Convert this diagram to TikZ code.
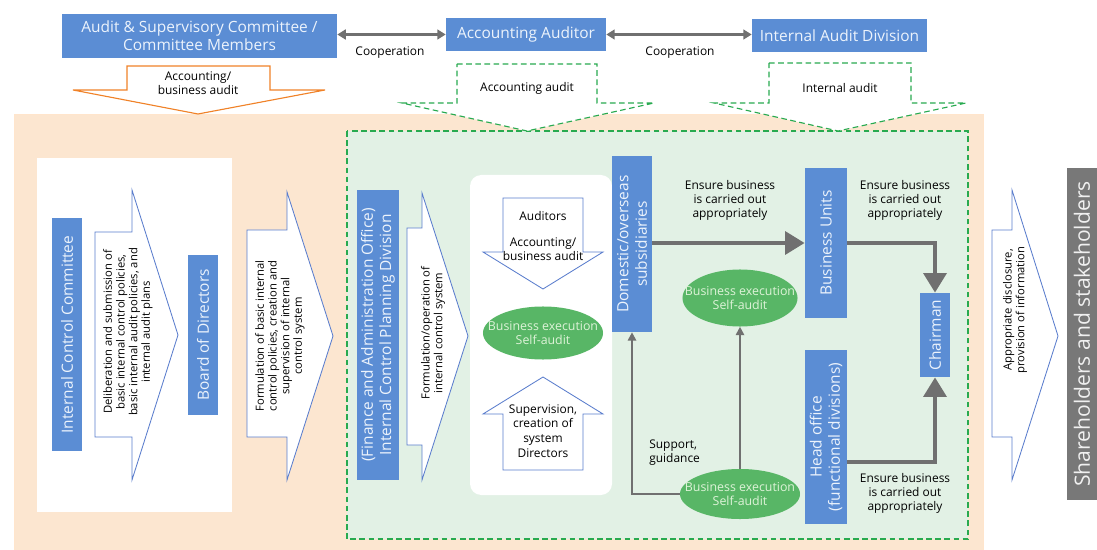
\documentclass[tikz,border=0pt]{standalone}
\usepackage{fontspec}
\setmainfont{Open Sans}
\usetikzlibrary{arrows.meta,shapes.geometric}
\definecolor{boxblue}{RGB}{91,141,212}
\definecolor{boxtext}{RGB}{236,243,252}
\definecolor{peach}{RGB}{252,230,208}
\definecolor{mint}{RGB}{226,241,229}
\definecolor{dashgreen}{RGB}{40,170,80}
\definecolor{leaf}{RGB}{88,182,102}
\definecolor{leaftext}{RGB}{222,243,216}
\definecolor{flowgray}{RGB}{112,112,112}
\definecolor{sharegray}{RGB}{120,120,120}
\definecolor{auditorange}{RGB}{240,130,40}
\definecolor{arrowblue}{RGB}{90,125,205}

\begin{document}
\begin{tikzpicture}[x=0.025cm, y=-0.025cm,
    every node/.style={font=\fontsize{8.5}{10}\selectfont, align=center, inner sep=0pt},
    bluebox/.style={fill=boxblue, text=boxtext, font=\fontsize{11}{13}\selectfont},
    selfaudit/.style={ellipse, fill=leaf},
    selftext/.style={text=leaftext, font=\fontsize{8.8}{10.5}\selectfont},
    arrowtext/.style={rotate=90, font=\fontsize{8}{9}\selectfont},
    bigarrow/.style={draw=arrowblue, fill=white, line width=0.6pt},
    greenarrow/.style={draw=dashgreen, fill=white, line width=0.8pt, dash pattern=on 4pt off 2.5pt},
    flow/.style={draw=flowgray, line width=3.5pt, -{Triangle[length=14pt,width=16pt]}},
    thinflow/.style={draw=flowgray, line width=1.3pt, -{Triangle[length=6pt,width=6pt]}},
    coop/.style={draw=flowgray, line width=1.8pt, {Triangle[length=6pt,width=7pt]}-{Triangle[length=6pt,width=7pt]}}]
  \useasboundingbox (0,0) rectangle (1097,550);

  % backgrounds
  \draw[orange!20, fill=peach] (14,114) rectangle (983,550);
  \draw[greenarrow, fill=mint] (347,131) rectangle (968,539);
  \fill[white] (37,158) rectangle (232,512);
  \fill[white, rounded corners=8pt] (470,175) rectangle (612,495);

  % auditors on top
  \node[bluebox, minimum width=6.875cm, minimum height=1.1cm] (audsup) at (199.5,36)
    {Audit \& Supervisory Committee /\\Committee Members};
  \node[bluebox, minimum width=4cm, minimum height=0.825cm] (accaud) at (526,34.5) {Accounting Auditor};
  \node[bluebox, minimum width=4.375cm, minimum height=0.825cm] (intaud) at (839.5,35.5) {Internal Audit Division};
  \draw[coop] (audsup.east |- accaud) -- (accaud.west);
  \draw[coop] (accaud.east) -- (intaud.west |- accaud);
  \node (coop1) at (390,53) {Cooperation};
  \node (coop2) at (680,53) {Cooperation};

  \draw[draw=auditorange, fill=white, line width=0.8pt]
    (127,66) -- (270,66) -- (270,90) -- (325,90) -- (198,114) -- (73,90) -- (127,90) -- cycle;
  \node (orgaudit) at (198,83) {Accounting/\\business audit};
  \draw[greenarrow]
    (457,64) -- (597,64) -- (597,103) -- (654,103) -- (527,131) -- (402,103) -- (457,103) -- cycle;
  \node (accaudit) at (527,88) {Accounting audit};
  \draw[greenarrow]
    (769,63) -- (911,63) -- (911,103) -- (966,103) -- (838,131) -- (714,103) -- (769,103) -- cycle;
  \node (intaudit) at (840,88) {Internal audit};

  % left: committee and board
  \node[bluebox, rotate=90, minimum width=5.825cm, minimum height=0.75cm] (icc) at (67,334.5)
    {Internal Control Committee};
  \draw[bigarrow] (95,232) -- (132,232) -- (132,190) -- (178,335) -- (132,480) -- (132,437) -- (95,437) -- cycle;
  \node[arrowtext] (delib) at (128,332) {Deliberation and submission of\\basic internal control policies,\\basic internal audit policies, and\\internal audit plans};
  \node[bluebox, rotate=90, minimum width=4cm, minimum height=0.75cm] (board) at (203,335) {Board of Directors};
  \draw[bigarrow] (247,230) -- (287,230) -- (287,192) -- (333,336) -- (287,480) -- (287,437) -- (247,437) -- cycle;
  \node[arrowtext] (formul) at (280,336) {Formulation of basic internal\\control policies, creation and\\supervision of internal\\control system};

  % planning division
  \node[bluebox, rotate=90, minimum width=7.25cm, minimum height=1.05cm] (plan) at (378,335)
    {(Finance and Administration Office)\\Internal Control Planning Division};
  \draw[bigarrow] (407,228) -- (422,228) -- (422,193) -- (468,336) -- (422,480) -- (422,445) -- (407,445) -- cycle;
  \node[arrowtext] (operate) at (433,333) {Formulation/operation of\\internal control system};

  % middle: auditors and directors
  \draw[bigarrow] (503,198) -- (583,198) -- (583,252) -- (603,252) -- (543,289) -- (483,252) -- (503,252) -- cycle;
  \node (auditors) at (543,216) {Auditors};
  \node (accbiz) at (543,249) {Accounting/\\business audit};
  \node[selfaudit, minimum width=3cm, minimum height=1.325cm] (sa1) at (543,333) {};
  \node[selftext] (sa1txt) at (sa1) {Business execution\\Self-audit};
  \draw[bigarrow] (543,377) -- (603,414) -- (583,414) -- (583,470) -- (503,470) -- (503,414) -- (483,414) -- cycle;
  \node (superv) at (543,425) {Supervision,\\creation of\\system};
  \node (directors) at (543,453) {Directors};

  % right: business flow
  \node[bluebox, rotate=90, minimum width=4.4cm, minimum height=1cm] (dom) at (632,244)
    {Domestic/overseas\\subsidiaries};
  \node[bluebox, rotate=90, minimum width=3.75cm, minimum height=1.05cm] (bu) at (826,243) {Business Units};
  \node[bluebox, rotate=90, minimum width=4.35cm, minimum height=1.05cm] (ho) at (826,437)
    {Head office\\(functional divisions)};
  \node[bluebox, rotate=90, minimum width=2.1cm, minimum height=0.75cm] (chair) at (935,335) {Chairman};
  \node[selfaudit, minimum width=2.875cm, minimum height=1.425cm] (sa2) at (740,298) {};
  \node[selftext] (sa2txt) at (sa2) {Business execution\\Self-audit};
  \node[selfaudit, minimum width=3cm, minimum height=1.25cm] (sa3) at (740,494) {};
  \node[selftext] (sa3txt) at (sa3) {Business execution\\Self-audit};
  \coordinate (hoout) at (847,462);

  \draw[flow] (dom.south |- bu) -- (bu.north);
  \draw[flow] (bu.south) -| (chair.east);
  \draw[flow] (hoout) -| (chair.west);
  \draw[thinflow] (sa3.north) -- (sa2.south);
  \draw[thinflow] (sa3.west) -| (dom.west);

  \node (ensure1) at (730,200) {Ensure business\\is carried out\\appropriately};
  \node (ensure2) at (905,200) {Ensure business\\is carried out\\appropriately};
  \node (ensure3) at (905,493) {Ensure business\\is carried out\\appropriately};
  \node[anchor=west, align=left] (support) at (649,453) {Support,\\guidance};

  % disclosure
  \draw[bigarrow] (992,230) -- (1012,230) -- (1012,190) -- (1058,336) -- (1012,480) -- (1012,437) -- (992,437) -- cycle;
  \node[arrowtext] (disclose) at (1015,310) {Appropriate disclosure,\\provision of information};
  \node[fill=sharegray, text=white!94!black, rotate=90, minimum width=8.3cm, minimum height=0.75cm,
    font=\fontsize{15}{17}\selectfont] (share) at (1082,334) {Shareholders and stakeholders};
\end{tikzpicture}
\end{document}
